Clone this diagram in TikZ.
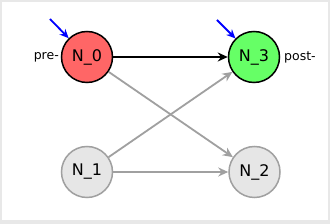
\documentclass[tikz,border=0pt]{standalone}
\usepackage{fontspec}
\setmainfont{DejaVu Sans}
\usetikzlibrary{arrows.meta}
\definecolor{frame}{HTML}{E8E8E8}
\definecolor{redfill}{HTML}{FF6666}
\definecolor{greenfill}{HTML}{66FF66}
\definecolor{greyfill}{HTML}{E6E6E6}
\definecolor{greyline}{HTML}{A0A0A0}
\begin{document}
\begin{tikzpicture}[x=1pt,y=-1pt,
  nd/.style={circle,draw=black,line width=1.5pt,minimum size=51pt,inner sep=0pt,font=\fontsize{16}{16}\selectfont},
  grey/.style={nd,draw=greyline,fill=greyfill},
  lbl/.style={font=\fontsize{12.5}{13}\selectfont,inner sep=1pt},
  edge/.style={line width=1.8pt,-{Stealth[length=10pt,width=9pt]}},
  gedge/.style={edge,draw=greyline},
  bedge/.style={line width=1.8pt,draw=blue,-{Stealth[length=9pt,width=8pt]}}]
\fill[frame] (0,0) rectangle (330,224);
\fill[white] (2,2) rectangle (328,220);
\useasboundingbox (0,0) rectangle (330,224);
\node[nd,fill=redfill] (n0) at (87,57) {N\_0};
\node[nd,fill=greenfill] (n3) at (254,57) {N\_3};
\node[grey] (n1) at (87,172) {N\_1};
\node[grey] (n2) at (254.5,172) {N\_2};
\node[lbl,anchor=east] (pre) at (60,57) {pre-};
\node[lbl,anchor=west] (post) at (283,57) {post-};
\coordinate (a0) at (50,19);
\coordinate (a3) at (217,20);
\draw[gedge] (n0) -- (n2);
\draw[gedge] (n1) -- (n3);
\draw[gedge] (n1) -- (n2);
\draw[edge] (n0) -- (n3);
\draw[bedge] (a0) -- (n0);
\draw[bedge] (a3) -- (n3);
\end{tikzpicture}
\end{document}
